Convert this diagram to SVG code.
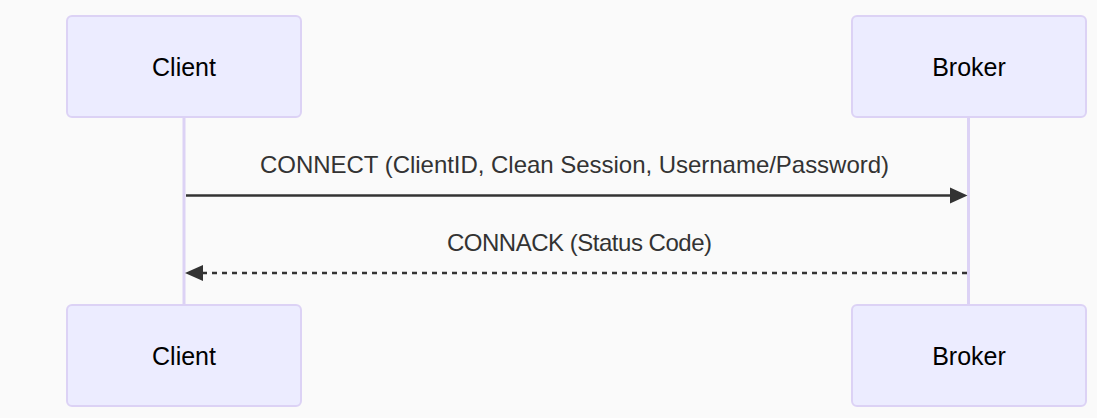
<svg xmlns="http://www.w3.org/2000/svg" width="1097" height="418" viewBox="0 0 1097 418">
<defs>
<style>
.actor rect{fill:#ECECFF;stroke:#DCD2F5;stroke-width:2}
.actor text{font-family:"Liberation Sans",Arial,sans-serif;font-size:25px;fill:#000;text-anchor:middle}
.life{stroke:#DCD2F5;stroke-width:3}
.msg{stroke:#333;stroke-width:2.4;fill:none}
.dash{stroke-dasharray:5 5}
.lbl{font-family:"Liberation Sans",Arial,sans-serif;font-size:24px;fill:#333;text-anchor:middle}
</style>
</defs>
<rect width="1097" height="418" fill="#FAFAFA"/>
<g id="lifelines">
<line class="life" x1="184" y1="117" x2="184" y2="305"/>
<line class="life" x1="968.5" y1="117" x2="968.5" y2="305"/>
</g>
<g id="client-top" class="actor"><rect x="67" y="16" width="234" height="101" rx="5"/><text x="184" y="76">Client</text></g>
<g id="broker-top" class="actor"><rect x="852" y="16" width="234" height="101" rx="5"/><text x="969" y="76">Broker</text></g>
<g id="client-bottom" class="actor"><rect x="67" y="305" width="234" height="101" rx="5"/><text x="184" y="365">Client</text></g>
<g id="broker-bottom" class="actor"><rect x="852" y="305" width="234" height="101" rx="5"/><text x="969" y="365">Broker</text></g>
<g id="connectors">
<line class="msg" x1="186" y1="195.5" x2="952" y2="195.5"/>
<polygon points="950,187.5 967.5,195.5 950,203.5" fill="#333"/>
<text class="lbl" x="574.5" y="173" textLength="629" lengthAdjust="spacing">CONNECT (ClientID, Clean Session, Username/Password)</text>
<line class="msg dash" x1="967" y1="273" x2="201" y2="273"/>
<polygon points="203,265 185,273 203,281" fill="#333"/>
<text class="lbl" x="579.5" y="251" textLength="265" lengthAdjust="spacing">CONNACK (Status Code)</text>
</g>
</svg>
